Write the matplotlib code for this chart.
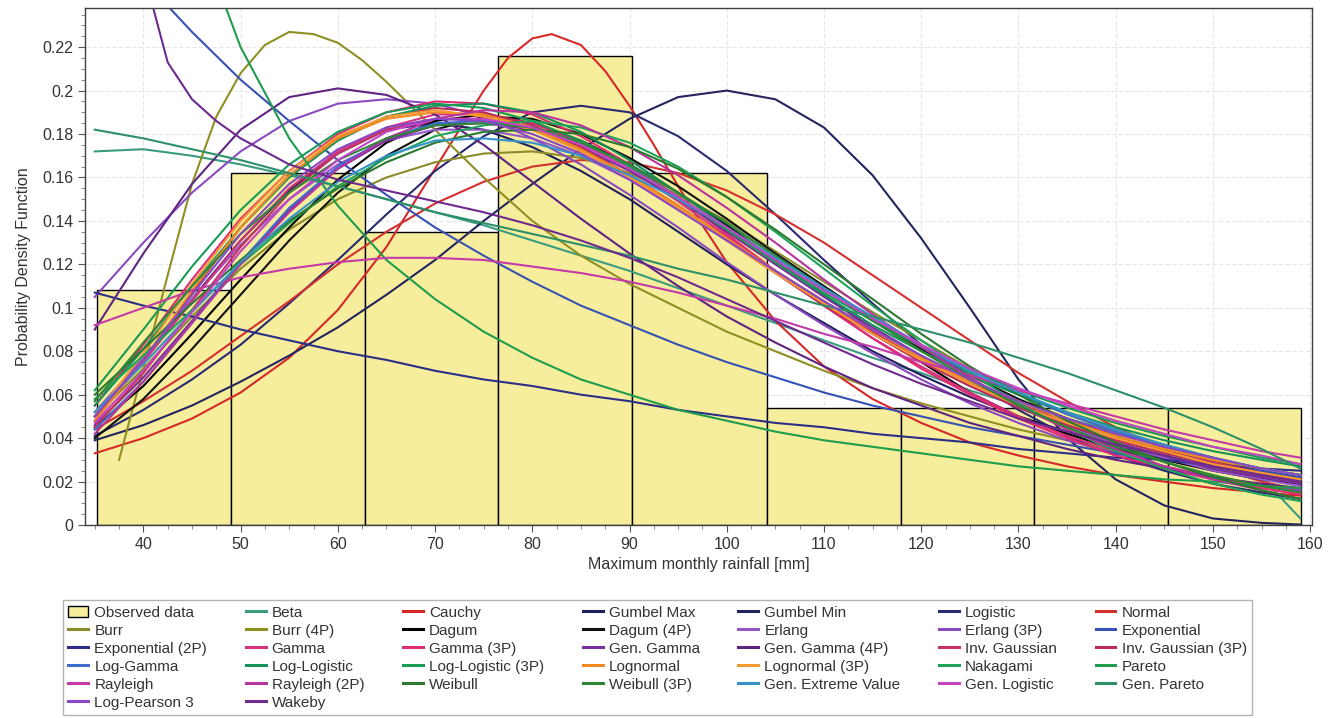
import matplotlib
matplotlib.use('Agg')
import matplotlib.pyplot as plt
from matplotlib.patches import Patch
from matplotlib.lines import Line2D
from matplotlib.ticker import MultipleLocator, FuncFormatter

plt.rcParams['font.family'] = ['Liberation Sans', 'DejaVu Sans']

x_mm = [35, 40, 45, 50, 55, 60, 65, 70, 75, 80, 85, 90, 95, 100,
        105, 110, 115, 120, 125, 130, 135, 140, 145, 150, 155, 159]
# a few sharp curves were read at more points
x_cauchy = [35, 40, 45, 50, 55, 60, 65, 70, 72.5, 75, 77.5, 80, 82, 85, 87.5, 90, 92.5, 95, 97.5,
            100, 105, 110, 115, 120, 125, 130, 135, 140, 145, 150, 155, 159]
x_burr_4p = [37.5, 40, 42.5, 45, 47.5, 50, 52.5, 55, 57.5, 60, 62.5, 65, 67.5, 70, 75, 80, 85,
             90, 95, 100, 105, 110, 115, 120, 125, 130, 135, 140, 145, 150, 155, 159]
x_wakeby = [35, 37.5, 40, 42.5, 45, 47.5, 50, 55, 60, 65, 70, 75, 80, 85, 90, 95, 100,
            105, 110, 115, 120, 125, 130, 135, 140, 145, 150, 155, 159]

# histogram of the observed data
bin_edges = [35.2, 49.0, 62.8, 76.5, 90.3, 104.1, 117.9, 131.6, 145.4, 159.1]
observed = [0.108, 0.162, 0.135, 0.216, 0.162, 0.054, 0.054, 0.054, 0.054]

# fitted density curves
beta = [0.172, 0.173, 0.170, 0.166, 0.161, 0.156, 0.150, 0.144, 0.138, 0.131, 0.124, 0.117, 0.109,
        0.101, 0.093, 0.085, 0.077, 0.070, 0.062, 0.055, 0.049, 0.043, 0.037, 0.031, 0.022, 0.003]
cauchy = [0.033, 0.040, 0.049, 0.061, 0.077, 0.099, 0.128, 0.164, 0.182, 0.200, 0.215, 0.224, 0.226,
          0.221, 0.209, 0.193, 0.175, 0.156, 0.138, 0.121, 0.094, 0.073, 0.058, 0.047, 0.038, 0.032,
          0.027, 0.023, 0.020, 0.017, 0.015, 0.0135]
gumbel_max = [0.050, 0.076, 0.104, 0.131, 0.154, 0.171, 0.182, 0.185, 0.182, 0.174, 0.163, 0.150, 0.135,
              0.120, 0.106, 0.093, 0.080, 0.069, 0.059, 0.050, 0.043, 0.036, 0.031, 0.026, 0.022, 0.019]
gumbel_min = [0.039, 0.046, 0.055, 0.066, 0.078, 0.091, 0.106, 0.122, 0.140, 0.157, 0.173, 0.187, 0.197,
              0.200, 0.196, 0.183, 0.161, 0.132, 0.100, 0.067, 0.040, 0.021, 0.009, 0.003, 0.001, 0.0002]
logistic = [0.041, 0.053, 0.067, 0.083, 0.102, 0.122, 0.143, 0.163, 0.179, 0.190, 0.193, 0.190, 0.179,
            0.163, 0.143, 0.122, 0.102, 0.083, 0.067, 0.053, 0.041, 0.032, 0.025, 0.019, 0.015, 0.012]
normal = [0.044, 0.057, 0.071, 0.087, 0.103, 0.120, 0.135, 0.148, 0.158, 0.165, 0.168, 0.167, 0.162,
          0.154, 0.143, 0.130, 0.115, 0.100, 0.085, 0.070, 0.057, 0.045, 0.035, 0.027, 0.020, 0.016]
burr = [0.050, 0.072, 0.096, 0.118, 0.136, 0.150, 0.160, 0.167, 0.171, 0.172, 0.169, 0.162, 0.152,
        0.140, 0.126, 0.112, 0.098, 0.085, 0.072, 0.061, 0.051, 0.043, 0.036, 0.030, 0.025, 0.022]
burr_4p = [0.030, 0.072, 0.115, 0.157, 0.188, 0.208, 0.221, 0.227, 0.226, 0.222, 0.214, 0.204,
           0.193, 0.182, 0.160, 0.140, 0.124, 0.111, 0.100, 0.089, 0.080, 0.071, 0.063, 0.056, 0.050,
           0.044, 0.039, 0.034, 0.030, 0.026, 0.023, 0.021]
dagum = [0.045, 0.064, 0.088, 0.113, 0.137, 0.159, 0.176, 0.186, 0.189, 0.185, 0.177, 0.166, 0.153,
         0.138, 0.122, 0.106, 0.090, 0.075, 0.061, 0.050, 0.042, 0.035, 0.030, 0.025, 0.021, 0.019]
dagum_4p = [0.040, 0.058, 0.081, 0.106, 0.131, 0.153, 0.170, 0.182, 0.188, 0.187, 0.180, 0.169, 0.156,
            0.141, 0.125, 0.110, 0.095, 0.081, 0.069, 0.058, 0.049, 0.041, 0.034, 0.029, 0.024, 0.021]
erlang = [0.052, 0.077, 0.104, 0.129, 0.150, 0.166, 0.177, 0.182, 0.182, 0.178, 0.170, 0.159, 0.146,
          0.132, 0.117, 0.103, 0.089, 0.076, 0.064, 0.054, 0.045, 0.037, 0.031, 0.025, 0.021, 0.018]
erlang_3p = [0.105, 0.130, 0.153, 0.172, 0.186, 0.194, 0.196, 0.194, 0.188, 0.178, 0.166, 0.152, 0.137,
             0.121, 0.106, 0.092, 0.079, 0.067, 0.056, 0.047, 0.039, 0.033, 0.027, 0.022, 0.018, 0.016]
exponential = [0.277, 0.251, 0.227, 0.205, 0.186, 0.168, 0.152, 0.137, 0.124, 0.112, 0.101, 0.092, 0.083,
               0.075, 0.068, 0.061, 0.055, 0.050, 0.045, 0.041, 0.037, 0.033, 0.030, 0.027, 0.025, 0.022]
exponential_2p = [0.107, 0.101, 0.096, 0.090, 0.085, 0.080, 0.076, 0.071, 0.067, 0.064, 0.060, 0.057, 0.053,
                  0.050, 0.047, 0.045, 0.042, 0.040, 0.038, 0.035, 0.033, 0.031, 0.030, 0.028, 0.026, 0.025]
gamma = [0.050, 0.075, 0.103, 0.131, 0.155, 0.172, 0.183, 0.189, 0.189, 0.185, 0.176, 0.164, 0.149,
         0.133, 0.117, 0.101, 0.086, 0.073, 0.061, 0.050, 0.041, 0.034, 0.027, 0.022, 0.018, 0.015]
gamma_3p = [0.055, 0.083, 0.113, 0.141, 0.163, 0.180, 0.190, 0.195, 0.194, 0.189, 0.179, 0.166, 0.151,
            0.134, 0.117, 0.101, 0.086, 0.072, 0.060, 0.049, 0.040, 0.032, 0.026, 0.021, 0.017, 0.014]
gen_gamma = [0.046, 0.068, 0.094, 0.121, 0.145, 0.164, 0.177, 0.184, 0.185, 0.182, 0.174, 0.163, 0.150,
             0.135, 0.120, 0.105, 0.091, 0.078, 0.066, 0.055, 0.046, 0.038, 0.032, 0.026, 0.022, 0.019]
gen_gamma_4p = [0.090, 0.125, 0.157, 0.182, 0.197, 0.201, 0.198, 0.189, 0.175, 0.158, 0.141, 0.125, 0.110,
                0.096, 0.084, 0.073, 0.063, 0.055, 0.047, 0.041, 0.035, 0.030, 0.026, 0.022, 0.019, 0.017]
inv_gaussian = [0.045, 0.070, 0.099, 0.128, 0.153, 0.171, 0.182, 0.187, 0.187, 0.182, 0.173, 0.161, 0.147,
                0.132, 0.117, 0.103, 0.089, 0.077, 0.066, 0.056, 0.047, 0.040, 0.034, 0.029, 0.024, 0.021]
inv_gaussian_3p = [0.048, 0.076, 0.107, 0.137, 0.161, 0.178, 0.188, 0.192, 0.190, 0.184, 0.174, 0.161, 0.147,
                   0.131, 0.116, 0.101, 0.088, 0.075, 0.064, 0.054, 0.046, 0.039, 0.033, 0.028, 0.023, 0.020]
log_gamma = [0.044, 0.066, 0.093, 0.121, 0.146, 0.165, 0.178, 0.185, 0.186, 0.183, 0.176, 0.166, 0.153,
             0.139, 0.124, 0.109, 0.095, 0.082, 0.070, 0.060, 0.051, 0.043, 0.036, 0.031, 0.026, 0.023]
log_logistic = [0.055, 0.081, 0.110, 0.137, 0.160, 0.177, 0.188, 0.193, 0.194, 0.190, 0.181, 0.168, 0.153,
                0.137, 0.121, 0.106, 0.092, 0.080, 0.069, 0.060, 0.052, 0.045, 0.039, 0.034, 0.030, 0.027]
log_logistic_3p = [0.062, 0.090, 0.119, 0.145, 0.166, 0.181, 0.190, 0.194, 0.192, 0.186, 0.177, 0.165, 0.151,
                   0.136, 0.121, 0.107, 0.094, 0.082, 0.072, 0.062, 0.054, 0.047, 0.041, 0.036, 0.031, 0.028]
lognormal = [0.048, 0.076, 0.108, 0.137, 0.161, 0.178, 0.187, 0.190, 0.189, 0.183, 0.173, 0.161, 0.147,
             0.132, 0.117, 0.103, 0.090, 0.077, 0.066, 0.057, 0.048, 0.041, 0.035, 0.030, 0.026, 0.023]
lognormal_3p = [0.050, 0.079, 0.111, 0.140, 0.163, 0.179, 0.188, 0.191, 0.188, 0.182, 0.172, 0.160, 0.146,
                0.131, 0.116, 0.102, 0.088, 0.076, 0.065, 0.055, 0.047, 0.040, 0.034, 0.028, 0.024, 0.021]
nakagami = [0.058, 0.078, 0.099, 0.120, 0.139, 0.156, 0.169, 0.179, 0.184, 0.186, 0.183, 0.176, 0.165,
            0.151, 0.135, 0.118, 0.101, 0.085, 0.070, 0.056, 0.044, 0.034, 0.026, 0.019, 0.014, 0.011]
pareto = [0.490, 0.360, 0.280, 0.220, 0.178, 0.147, 0.122, 0.104, 0.089, 0.077, 0.067, 0.060, 0.053,
          0.048, 0.043, 0.039, 0.036, 0.033, 0.030, 0.027, 0.025, 0.023, 0.021, 0.020, 0.018, 0.017]
rayleigh = [0.092, 0.100, 0.108, 0.114, 0.118, 0.121, 0.123, 0.123, 0.122, 0.119, 0.116, 0.112, 0.107,
            0.101, 0.095, 0.088, 0.082, 0.075, 0.069, 0.062, 0.056, 0.050, 0.044, 0.039, 0.034, 0.031]
rayleigh_2p = [0.042, 0.066, 0.093, 0.120, 0.144, 0.164, 0.178, 0.187, 0.191, 0.190, 0.184, 0.174, 0.161,
               0.146, 0.130, 0.113, 0.097, 0.082, 0.068, 0.055, 0.044, 0.035, 0.027, 0.021, 0.016, 0.012]
weibull = [0.060, 0.081, 0.102, 0.122, 0.140, 0.155, 0.167, 0.176, 0.181, 0.182, 0.180, 0.174, 0.164,
           0.151, 0.136, 0.120, 0.104, 0.088, 0.073, 0.060, 0.048, 0.038, 0.029, 0.022, 0.016, 0.012]
weibull_3p = [0.057, 0.084, 0.110, 0.134, 0.153, 0.168, 0.178, 0.184, 0.185, 0.183, 0.176, 0.166, 0.153,
              0.139, 0.124, 0.109, 0.094, 0.080, 0.067, 0.055, 0.045, 0.036, 0.029, 0.023, 0.018, 0.015]
gen_extreme_value = [0.052, 0.074, 0.098, 0.121, 0.141, 0.158, 0.170, 0.177, 0.178, 0.176, 0.170, 0.161, 0.150,
                     0.137, 0.123, 0.109, 0.096, 0.083, 0.071, 0.061, 0.052, 0.044, 0.037, 0.031, 0.026, 0.023]
gen_logistic = [0.047, 0.071, 0.098, 0.126, 0.150, 0.168, 0.181, 0.187, 0.187, 0.183, 0.175, 0.164, 0.151,
                0.137, 0.122, 0.108, 0.095, 0.083, 0.072, 0.063, 0.055, 0.048, 0.042, 0.036, 0.032, 0.028]
gen_pareto = [0.182, 0.178, 0.173, 0.168, 0.162, 0.156, 0.150, 0.144, 0.139, 0.134, 0.129, 0.124, 0.118,
              0.113, 0.107, 0.101, 0.096, 0.090, 0.084, 0.077, 0.070, 0.062, 0.054, 0.045, 0.035, 0.026]
log_pearson_3 = [0.050, 0.076, 0.106, 0.134, 0.157, 0.173, 0.183, 0.187, 0.186, 0.180, 0.171, 0.159, 0.145,
                 0.131, 0.117, 0.103, 0.090, 0.078, 0.067, 0.057, 0.049, 0.042, 0.036, 0.031, 0.026, 0.023]
wakeby = [0.500, 0.360, 0.255, 0.213, 0.196, 0.186, 0.178, 0.166, 0.159, 0.154, 0.149, 0.144, 0.138,
          0.131, 0.123, 0.114, 0.104, 0.094, 0.084, 0.074, 0.065, 0.057, 0.049, 0.043, 0.037, 0.032,
          0.027, 0.023, 0.020]

# legend order (row by row, like the original)
curves = [
    ('Beta', x_mm, beta), ('Cauchy', x_cauchy, cauchy), ('Gumbel Max', x_mm, gumbel_max),
    ('Gumbel Min', x_mm, gumbel_min), ('Logistic', x_mm, logistic), ('Normal', x_mm, normal),
    ('Burr', x_mm, burr), ('Burr (4P)', x_burr_4p, burr_4p), ('Dagum', x_mm, dagum),
    ('Dagum (4P)', x_mm, dagum_4p), ('Erlang', x_mm, erlang), ('Erlang (3P)', x_mm, erlang_3p),
    ('Exponential', x_mm, exponential), ('Exponential (2P)', x_mm, exponential_2p),
    ('Gamma', x_mm, gamma), ('Gamma (3P)', x_mm, gamma_3p), ('Gen. Gamma', x_mm, gen_gamma),
    ('Gen. Gamma (4P)', x_mm, gen_gamma_4p), ('Inv. Gaussian', x_mm, inv_gaussian),
    ('Inv. Gaussian (3P)', x_mm, inv_gaussian_3p), ('Log-Gamma', x_mm, log_gamma),
    ('Log-Logistic', x_mm, log_logistic), ('Log-Logistic (3P)', x_mm, log_logistic_3p),
    ('Lognormal', x_mm, lognormal), ('Lognormal (3P)', x_mm, lognormal_3p),
    ('Nakagami', x_mm, nakagami), ('Pareto', x_mm, pareto), ('Rayleigh', x_mm, rayleigh),
    ('Rayleigh (2P)', x_mm, rayleigh_2p), ('Weibull', x_mm, weibull), ('Weibull (3P)', x_mm, weibull_3p),
    ('Gen. Extreme Value', x_mm, gen_extreme_value), ('Gen. Logistic', x_mm, gen_logistic),
    ('Gen. Pareto', x_mm, gen_pareto), ('Log-Pearson 3', x_mm, log_pearson_3),
    ('Wakeby', x_wakeby, wakeby),
]

colors = {
    'Beta': '#3b9b7e', 'Cauchy': '#d62828', 'Gumbel Max': '#1f1f5c', 'Gumbel Min': '#24245e',
    'Logistic': '#2a2a70', 'Normal': '#d43030', 'Burr': '#8b8b2a', 'Burr (4P)': '#8f8f24',
    'Dagum': '#000000', 'Dagum (4P)': '#111111', 'Erlang': '#9455c8', 'Erlang (3P)': '#8a4ac0',
    'Exponential': '#3852b4', 'Exponential (2P)': '#2b2f86', 'Gamma': '#d5337e', 'Gamma (3P)': '#e02a72',
    'Gen. Gamma': '#7a2d9e', 'Gen. Gamma (4P)': '#5f2482', 'Inv. Gaussian': '#c73362',
    'Inv. Gaussian (3P)': '#b92c58', 'Log-Gamma': '#3d6ccc', 'Log-Logistic': '#15925a',
    'Log-Logistic (3P)': '#199a55', 'Lognormal': '#f28a24', 'Lognormal (3P)': '#f59a30',
    'Nakagami': '#1fa35a', 'Pareto': '#1f9c4c', 'Rayleigh': '#c43aa8', 'Rayleigh (2P)': '#b8349e',
    'Weibull': '#2b7a2f', 'Weibull (3P)': '#2f8735', 'Gen. Extreme Value': '#3592c8',
    'Gen. Logistic': '#c443c4', 'Gen. Pareto': '#2e9068', 'Log-Pearson 3': '#8a48c2', 'Wakeby': '#6e2a8e',
}
bar_color = '#f6ee9c'
text_color = '#333333'

fig = plt.figure(figsize=(13.33, 7.18), dpi=100)
ax = fig.add_axes([0.0638, 0.2688, 0.9205, 0.72])

widths = [b - a for a, b in zip(bin_edges[:-1], bin_edges[1:])]
ax.bar(bin_edges[:-1], observed, width=widths, align='edge', color=bar_color,
       edgecolor='black', linewidth=1.0, zorder=1)

for label, xs, ys in curves:
    ax.plot(xs, ys, color=colors[label], lw=1.5, zorder=2, solid_joinstyle='round')

ax.set_xlim(34.0, 160.2)
ax.set_ylim(0, 0.238)
ax.xaxis.set_major_locator(MultipleLocator(10))
ax.xaxis.set_minor_locator(MultipleLocator(2.5))
ax.yaxis.set_major_locator(MultipleLocator(0.02))
ax.yaxis.set_minor_locator(MultipleLocator(0.005))
ax.yaxis.set_major_formatter(FuncFormatter(lambda v, p: '%g' % round(v, 3)))
ax.tick_params(which='major', direction='out', length=5, color='#555555',
               labelsize=11.5, labelcolor=text_color)
ax.tick_params(which='minor', direction='out', length=3, color='#777777')
ax.grid(True, which='major', color='#e6e6e6', linestyle=(0, (4, 2)), linewidth=0.8)
ax.set_axisbelow(True)
for s in ax.spines.values():
    s.set_color('#404040')
    s.set_linewidth(1.0)

ax.set_xlabel('Maximum monthly rainfall [mm]', fontsize=11.5, color=text_color, labelpad=4)
ax.set_ylabel('Probability Density Function', fontsize=11.5, color=text_color, labelpad=8)

# legend: build handles in row order, then reorder for matplotlib's column filling
handles = [Patch(facecolor=bar_color, edgecolor='black', linewidth=1.0)]
labels = ['Observed data']
for label, xs, ys in curves:
    handles.append(Line2D([0], [0], color=colors[label], lw=2.2))
    labels.append(label)

ncol = 7
nrow = 6
order = [r * ncol + c for c in range(ncol) for r in range(nrow) if r * ncol + c < len(handles)]
leg = fig.legend([handles[i] for i in order], [labels[i] for i in order],
                 loc='lower left', bbox_to_anchor=(63 / 1333, 3 / 718, 1189 / 1333, 117 / 718),
                 mode='expand', ncol=ncol, fontsize=11, frameon=True, fancybox=False,
                 edgecolor='#a0a0a0', handlelength=1.3, handletextpad=0.4,
                 labelspacing=0.26, borderpad=0.35, borderaxespad=0, columnspacing=1.0)
leg.get_frame().set_linewidth(1.0)
for t in leg.get_texts():
    t.set_color(text_color)

fig.savefig('out.png', dpi=100)
